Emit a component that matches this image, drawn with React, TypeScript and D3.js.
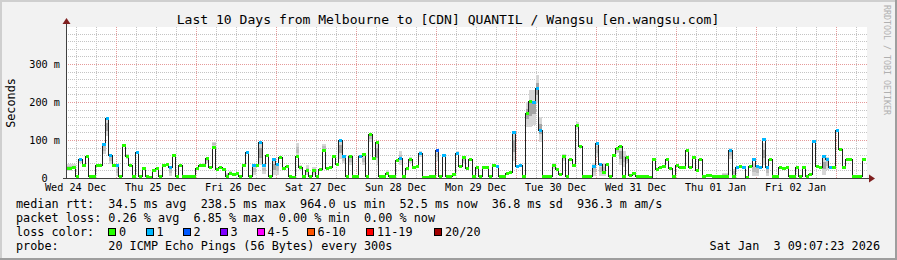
import React, { useEffect } from 'react';
import * as d3 from 'd3';

const W = 897;
const H = 260;
const FONT = '"DejaVu Sans Mono", monospace';

const titleText = 'Last 10 Days from Melbourne to [CDN] QUANTIL / Wangsu [en.wangsu.com]';
const startTime = new Date(2025, 11, 24, 9, 7, 23);
const endTime = new Date(2026, 0, 3, 9, 7, 23);
const firstStep = new Date(2025, 11, 24, 9, 0, 0);
const stepHours = 1;

// median rtt per hourly step (ms)
const medianMs = [
  27, 27, 30, 5, 49, 34, 58, 5, 5, 33,
  35, 89, 157, 60, 35, 33, 5, 87, 58, 33,
  5, 69, 4, 27, 5, 3, 20, 26, 5, 33,
  36, 30, 60, 4, 33, 5, 4, 4, 5, 27,
  33, 35, 52, 30, 82, 23, 30, 23, 5, 14,
  10, 14, 4, 35, 69, 4, 35, 35, 96, 35,
  60, 4, 49, 37, 55, 27, 31, 5, 3, 58,
  28, 5, 22, 5, 22, 5, 24, 74, 26, 30,
  59, 37, 100, 58, 5, 59, 4, 4, 58, 62,
  4, 116, 52, 96, 5, 4, 14, 4, 5, 48,
  52, 4, 27, 51, 30, 32, 67, 2, 2, 4,
  4, 74, 5, 60, 4, 5, 10, 67, 32, 54,
  26, 51, 4, 28, 4, 28, 28, 4, 35, 32,
  4, 4, 14, 16, 122, 32, 35, 4, 172, 203,
  201, 236, 126, 4, 5, 5, 34, 25, 10, 58,
  4, 51, 34, 139, 84, 4, 5, 4, 32, 93,
  37, 16, 37, 4, 60, 78, 84, 5, 55, 8,
  14, 4, 4, 4, 4, 3, 51, 25, 29, 31,
  51, 27, 4, 33, 29, 29, 75, 29, 55, 20,
  51, 4, 7, 7, 4, 4, 4, 5, 5, 75,
  4, 29, 31, 29, 3, 31, 51, 32, 29, 103,
  29, 51, 5, 5, 29, 27, 28, 4, 4, 29,
  4, 29, 4, 10, 98, 31, 29, 58, 51, 29,
  29, 126, 77, 29, 51, 51, 5, 4, 4, 51,
];

// steps with packet loss (step index, lost pings)
const lossHours = [4, 11, 12, 13, 15, 21, 31, 54, 56, 58, 59, 62, 63, 82, 83, 88, 100, 106, 111, 113, 117, 129, 134, 135, 136, 140, 141, 142, 158, 159, 160, 199, 201, 203, 206, 207, 208, 209, 210, 224, 227, 228, 229, 231];
const lossCounts = [1, 1, 1, 1, 1, 1, 1, 1, 1, 1, 1, 1, 1, 1, 1, 1, 1, 1, 2, 1, 1, 1, 1, 1, 1, 1, 1, 1, 1, 1, 1, 1, 1, 1, 1, 1, 1, 1, 1, 1, 1, 1, 1, 1];

// smoke (ping spread) for steps where it is visible (ms)
const smokeHours = [0, 1, 2, 4, 11, 12, 13, 15, 18, 31, 41, 42, 44, 48, 49, 56, 58, 59, 62, 63, 69, 70, 72, 74, 77, 82, 83, 85, 89, 91, 93, 96, 100, 103, 106, 111, 117, 119, 134, 138, 139, 140, 141, 142, 146, 149, 153, 158, 159, 160, 161, 165, 166, 167, 168, 172, 173, 197, 198, 199, 200, 206, 207, 209, 210, 227, 228];
const smokeLoMs = [18, 18, 24, 40, 62, 110, 36, 5, 50, 5, 30, 40, 82, 5, 8, 8, 35, 10, 8, 8, 55, 22, 8, 8, 68, 50, 40, 35, 35, 95, 35, 10, 35, 40, 55, 45, 60, 40, 45, 135, 135, 140, 197, 96, 25, 45, 130, 5, 55, 5, 5, 65, 35, 30, 40, 3, 3, 3, 3, 50, 5, 5, 5, 35, 5, 8, 20];
const smokeHiMs = [37, 37, 36, 52, 92, 160, 62, 33, 62, 32, 40, 55, 96, 14, 18, 36, 96, 35, 50, 40, 93, 35, 33, 28, 90, 102, 60, 60, 62, 118, 96, 20, 72, 55, 70, 76, 70, 56, 124, 200, 231, 231, 271, 161, 40, 62, 148, 40, 95, 40, 40, 80, 86, 70, 58, 8, 8, 14, 14, 78, 25, 40, 35, 92, 30, 58, 55];

const yTicksMs = [0, 100, 200, 300];
const yTickLabels = ['0', '100 m', '200 m', '300 m'];
const yMaxMs = 397.4;

const lossLabels = ['0', '1', '2', '3', '4-5', '6-10', '11-19', '20/20'];
const lossUpper = [0, 1, 2, 3, 5, 10, 19, 20];
const lossColors = ['#26ff00', '#00b8ff', '#0059ff', '#7e00ff', '#ff00ff', '#ff5500', '#ff0000', '#a00000'];

const legendRtt = 'median rtt:  34.5 ms avg  238.5 ms max  964.0 us min  52.5 ms now  36.8 ms sd  936.3 m am/s';
const legendLoss = 'packet loss: 0.26 % avg  6.85 % max  0.00 % min  0.00 % now';
const legendColorLabel = 'loss color:';
const legendProbeLabel = 'probe:';
const legendProbeText = '20 ICMP Echo Pings (56 Bytes) every 300s';
const stampText = 'Sat Jan  3 09:07:23 2026';
const watermark = 'RRDTOOL / TOBI OETIKER';

// layout
const PL = 66, PR = 866, PT = 27, PB = 178;
const legendBoxX = [108, 145.5, 182.5, 219.5, 256.5, 306.5, 366, 434];

function lossColor(n: number) {
  for (let i = 0; i < lossUpper.length; i++) if (n <= lossUpper[i]) return lossColors[i];
  return lossColors[lossColors.length - 1];
}

export default function App() {
  useEffect(() => {
    document.body.style.margin = '0';
  }, []);

  const x = d3.scaleTime().domain([startTime, endTime]).range([PL, PR]);
  const y = d3.scaleLinear().domain([0, yMaxMs]).range([PB, PT]);

  const lossMap = new Map<number, number>();
  lossHours.forEach((h, i) => lossMap.set(h, lossCounts[i]));

  const steps = medianMs.map((v, i) => ({
    t0: d3.timeHour.offset(firstStep, i * stepHours),
    t1: d3.timeHour.offset(firstStep, (i + 1) * stepHours),
    v,
    loss: lossMap.get(i) || 0,
  }));

  const linePts = steps.map(s => ({ t: s.t0, v: s.v }));
  linePts.push({ t: steps[steps.length - 1].t1, v: steps[steps.length - 1].v });
  const line = d3.line<{ t: Date; v: number }>()
    .x(d => x(d.t))
    .y(d => Math.round(y(d.v)) + 0.5)
    .curve(d3.curveStepAfter);

  const days = d3.timeDay.range(d3.timeDay.ceil(startTime), endTime);
  const sixHours = d3.timeHour.every(6)!.range(startTime, endTime).filter(t => t.getHours() !== 0);
  const noons = d3.timeDay.range(d3.timeDay.floor(startTime), endTime)
    .map(d => d3.timeHour.offset(d, 12))
    .filter(t => t >= startTime && t <= endTime);
  const fmt = d3.timeFormat('%a %d %b');

  const minorY = d3.range(20, yMaxMs, 20).filter(v => v % 100 !== 0);
  const majorY = d3.range(100, yMaxMs, 100);

  const crisp = (v: number) => Math.round(v) + 0.5;

  return (
    <svg width={W} height={H} style={{ position: 'absolute', left: 0, top: 0, display: 'block' }} fontFamily={FONT}>
      <defs>
        <clipPath id="plotclip">
          <rect x={PL + 1} y={PT} width={PR - PL - 1} height={PB - PT + 1} />
        </clipPath>
      </defs>
      {/* background and frame */}
      <rect x={0} y={0} width={W} height={H} fill="#f2f2f2" />
      <rect x={0} y={0} width={W} height={2} fill="#cfcfcf" />
      <rect x={0} y={0} width={2} height={H} fill="#cfcfcf" />
      <rect x={0} y={H - 2} width={W} height={2} fill="#9e9e9e" />
      <rect x={W - 2} y={0} width={2} height={H} fill="#9e9e9e" />
      <rect x={PL} y={PT} width={PR - PL + 1} height={PB - PT} fill="#ffffff" />

      {/* grid */}
      <g shapeRendering="crispEdges" strokeWidth={1} strokeDasharray="1,1">
        {sixHours.map((t, i) => (
          <line key={'vm' + i} x1={crisp(x(t))} x2={crisp(x(t))} y1={PT} y2={PB} stroke="#c4c4c4" />
        ))}
        {minorY.map((v, i) => (
          <line key={'hm' + i} x1={PL} x2={PR + 2} y1={crisp(y(v))} y2={crisp(y(v))} stroke="#c4c4c4" />
        ))}
        {days.map((t, i) => (
          <line key={'vM' + i} x1={crisp(x(t))} x2={crisp(x(t))} y1={PT} y2={PB} stroke="#e59a9a" />
        ))}
        {majorY.map((v, i) => (
          <line key={'hM' + i} x1={PL} x2={PR + 2} y1={crisp(y(v))} y2={crisp(y(v))} stroke="#e59a9a" />
        ))}
      </g>

      {/* smoke */}
      <g clipPath="url(#plotclip)" shapeRendering="crispEdges">
        {smokeHours.map((h, i) => {
          const s = steps[h];
          const x0 = x(s.t0), x1 = x(s.t1);
          const lo = smokeLoMs[i], hi = smokeHiMs[i];
          const span = hi - lo;
          const mLo = lo + span * 0.3, mHi = hi - span * 0.3;
          return (
            <g key={'s' + i}>
              <rect x={x0} width={x1 - x0} y={y(hi)} height={y(lo) - y(hi)} fill="#d6d6d6" />
              <rect x={x0} width={x1 - x0} y={y(mHi)} height={y(mLo) - y(mHi)} fill={span > 40 ? '#a4a4a4' : '#bdbdbd'} />
            </g>
          );
        })}
      </g>

      {/* median */}
      <g clipPath="url(#plotclip)">
        <path d={line(linePts) || ''} fill="none" stroke="#202020" strokeWidth={1} shapeRendering="crispEdges" />
        {steps.map((s, i) => {
          const x0 = x(s.t0), x1 = x(s.t1);
          return (
            <rect key={'m' + i} x={x0} width={x1 - x0} y={Math.round(y(s.v)) - 1} height={3}
              fill={lossColor(s.loss)} shapeRendering="crispEdges" />
          );
        })}
      </g>

      {/* axes */}
      <g shapeRendering="crispEdges">
        <line x1={PL + 0.5} x2={PL + 0.5} y1={PB + 1} y2={PT - 5} stroke="#404040" />
        <line x1={PL - 3} x2={PR + 3} y1={PB + 0.5} y2={PB + 0.5} stroke="#404040" />
      </g>
      <path d={`M${PL + 0.5},${PT - 9} L${PL - 3.5},${PT - 3} L${PL + 4.5},${PT - 3} Z`} fill="#7f1f1f" />
      <path d={`M${PR + 9},${PB + 0.5} L${PR + 3},${PB - 3.5} L${PR + 3},${PB + 4.5} Z`} fill="#7f1f1f" />

      {/* y labels */}
      <g fontSize={10.2} fill="#000">
        {yTicksMs.map((v, i) => (
          <text key={'yl' + i} x={v === 0 ? 47.7 : 60} y={y(v) + 3.7} textAnchor="end">{yTickLabels[i]}</text>
        ))}
        {noons.map((t, i) => (
          <text key={'xl' + i} x={x(t)} y={190.5} textAnchor="middle">{fmt(t)}</text>
        ))}
      </g>
      <text transform="translate(15,103) rotate(-90)" fontSize={11.8} textAnchor="middle">Seconds</text>

      {/* title */}
      <text x={448} y={24} fontSize={13.07} textAnchor="middle">{titleText}</text>

      {/* watermark */}
      <text transform="translate(884,5) rotate(90)" fontSize={8.3} fill="#b0b0b0">{watermark}</text>

      {/* legend */}
      <g fontSize={11.8} fill="#000" style={{ whiteSpace: 'pre' }}>
        <text x={16} y={208} xmlSpace="preserve">{legendRtt}</text>
        <text x={16} y={222} xmlSpace="preserve">{legendLoss}</text>
        <text x={16} y={236} xmlSpace="preserve">{legendColorLabel}</text>
        {lossLabels.map((lab, i) => (
          <g key={'lg' + i}>
            <rect x={legendBoxX[i] + 0.5} y={228.5} width={7} height={7} fill={lossColors[i]} stroke="#000" strokeWidth={1} shapeRendering="crispEdges" />
            <text x={legendBoxX[i] + 11} y={236}>{lab}</text>
          </g>
        ))}
        <text x={16} y={250}>{legendProbeLabel}</text>
        <text x={108.3} y={250} xmlSpace="preserve">{legendProbeText}</text>
        <text x={880} y={250} textAnchor="end" xmlSpace="preserve">{stampText}</text>
      </g>
    </svg>
  );
}
